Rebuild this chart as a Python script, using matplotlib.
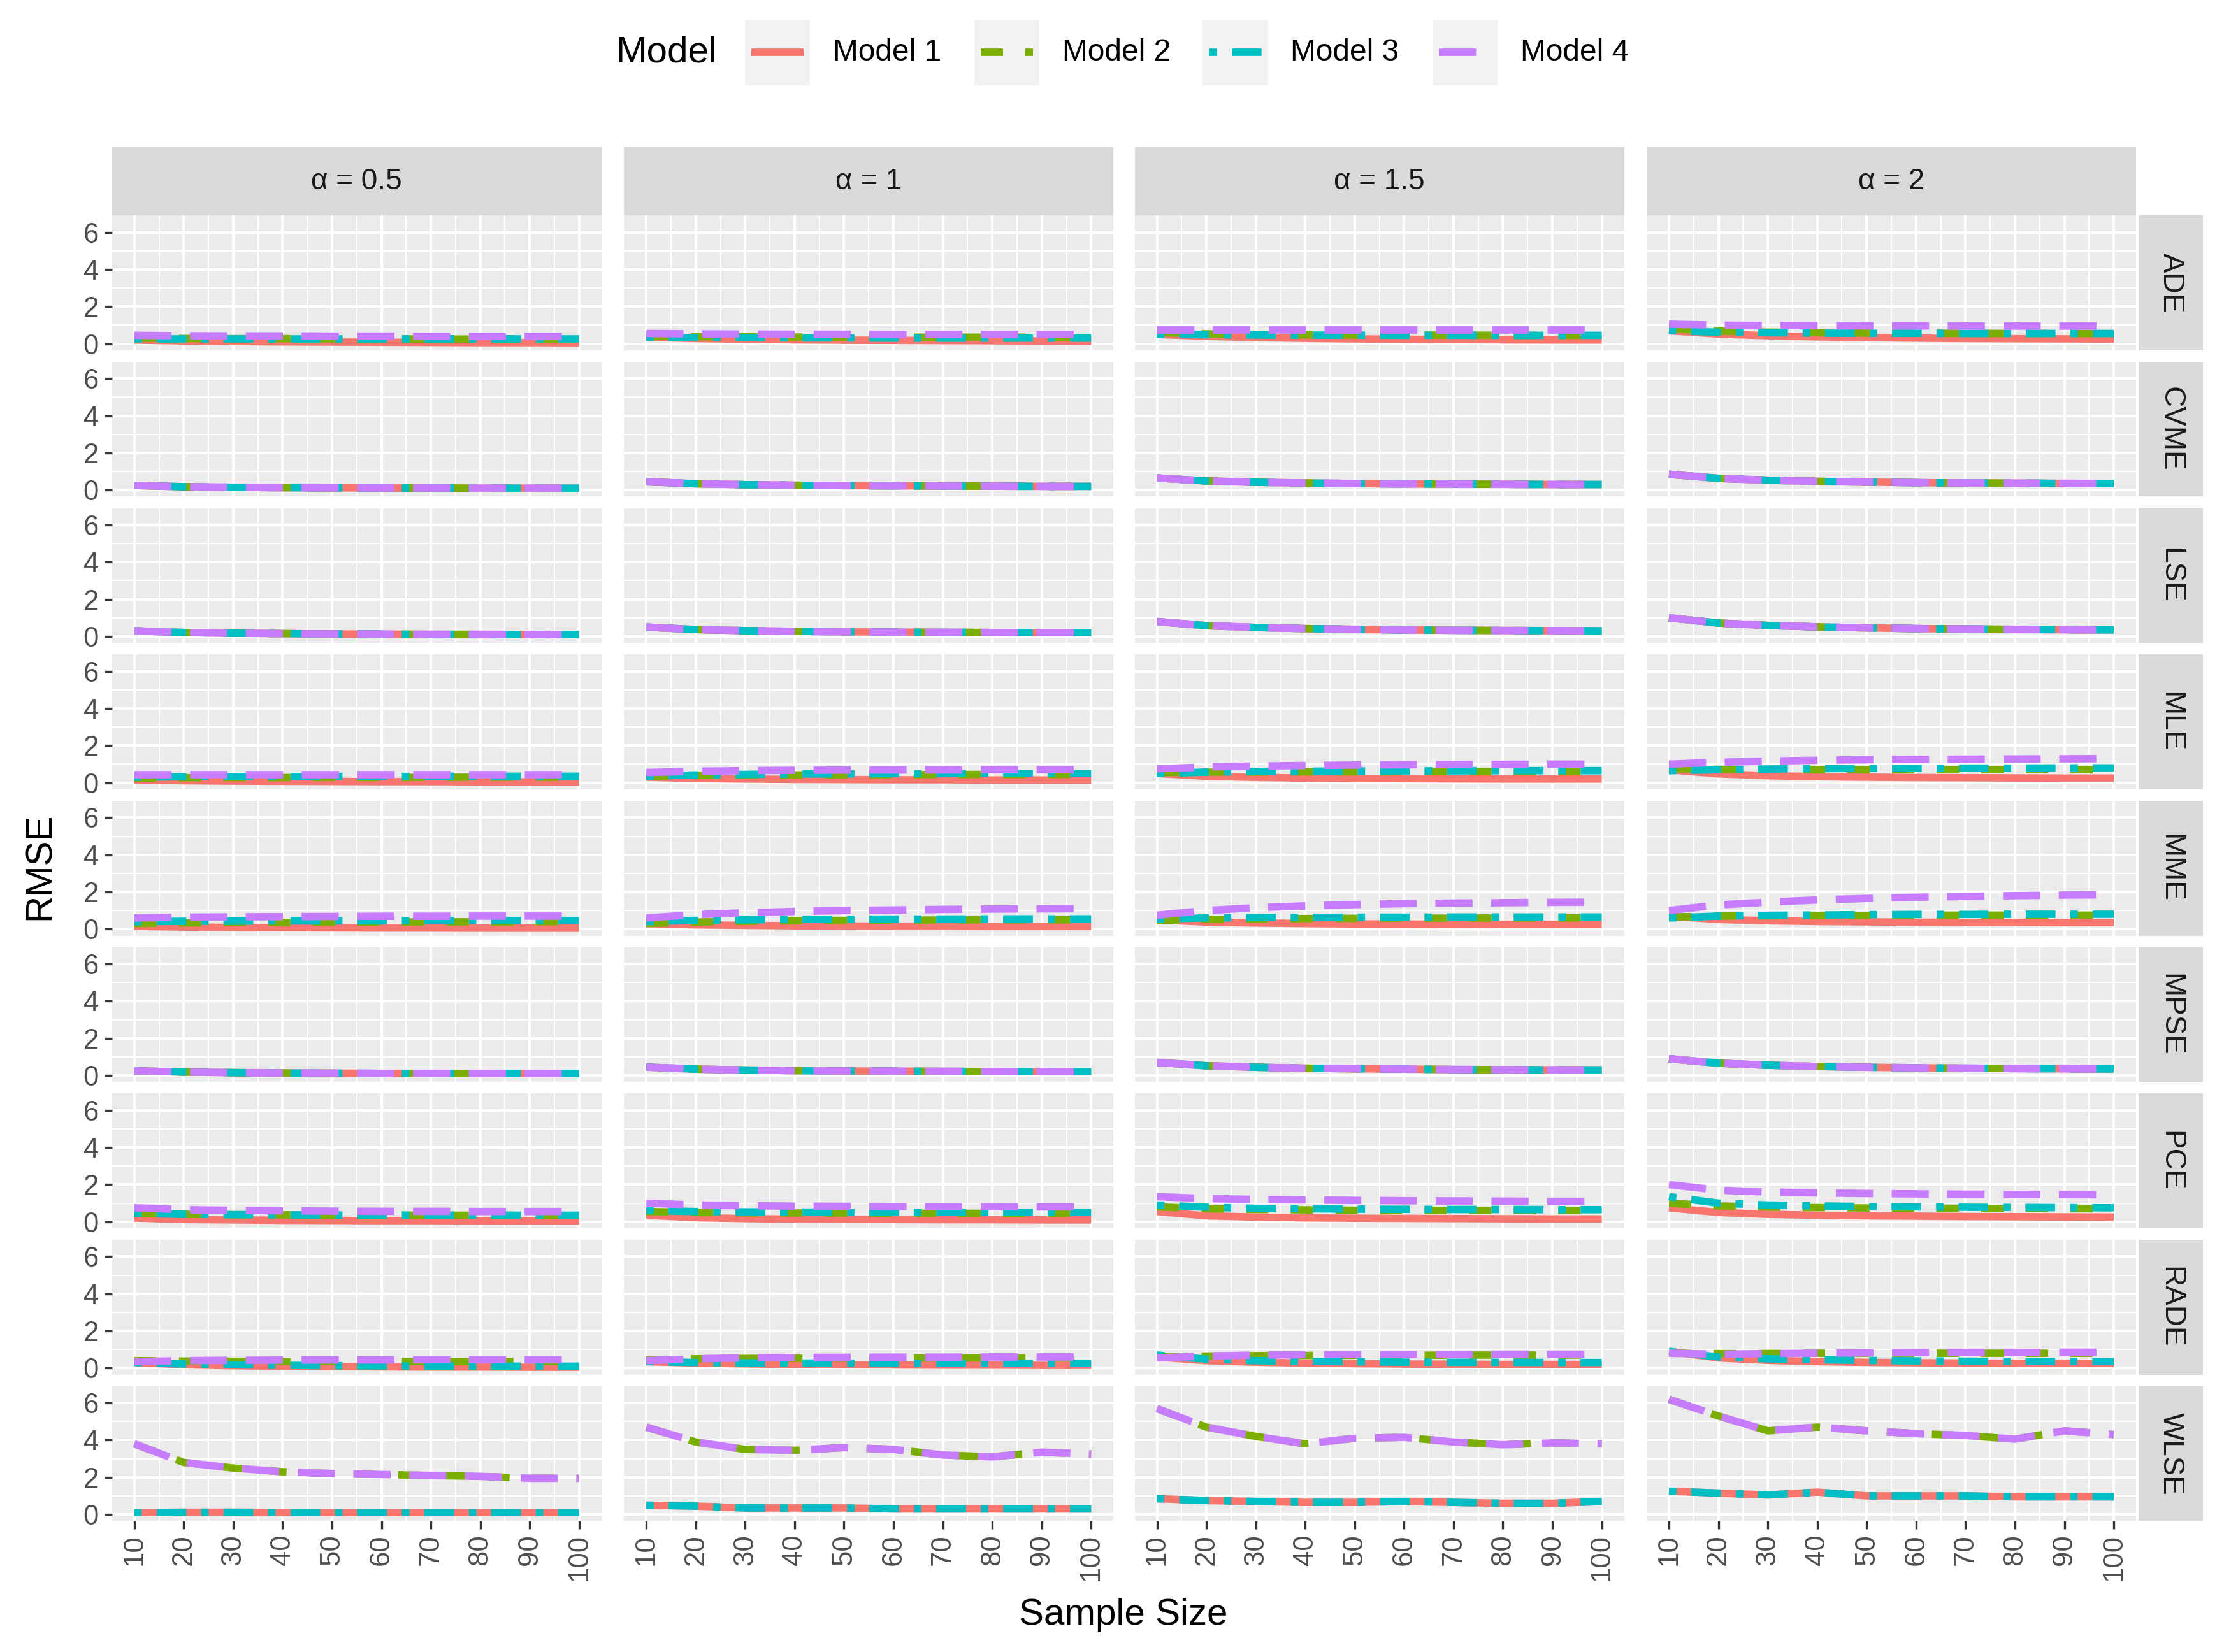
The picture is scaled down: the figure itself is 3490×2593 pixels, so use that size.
import matplotlib
matplotlib.use("Agg")
import matplotlib.pyplot as plt

plt.rcParams['font.family'] = ['Liberation Sans', 'DejaVu Sans']

sample_size = [10, 20, 30, 40, 50, 60, 70, 80, 90, 100]
alphas = ["0.5", "1", "1.5", "2"]
methods = ["ADE", "CVME", "LSE", "MLE", "MME", "MPSE", "PCE", "RADE", "WLSE"]
models = ["Model 1", "Model 2", "Model 3", "Model 4"]
colors = ["#F8766D", "#7CAE00", "#00BFC4", "#C77CFF"]

# values[method][alpha] = [Model 1, Model 2, Model 3, Model 4]
ADE = {
 "0.5": [[.20,.15,.12,.10,.09,.08,.07,.06,.06,.05],[.30,.28,.27,.27,.26,.26,.25,.25,.25,.25],
         [.25,.25,.25,.25,.25,.25,.25,.25,.25,.25],[.45,.43,.42,.42,.41,.41,.40,.40,.40,.40]],
 "1": [[.35,.28,.24,.21,.19,.18,.17,.16,.15,.15],[.40,.38,.37,.36,.36,.35,.35,.35,.35,.35],
       [.35,.33,.32,.31,.31,.30,.30,.30,.30,.30],[.55,.53,.52,.51,.51,.50,.50,.50,.50,.50]],
 "1.5": [[.50,.40,.33,.29,.26,.24,.22,.21,.20,.20],[.60,.53,.50,.48,.47,.46,.46,.45,.45,.45],
         [.50,.48,.47,.46,.46,.45,.45,.45,.45,.45],[.75,.75,.75,.75,.75,.75,.75,.75,.75,.75]],
 "2": [[.70,.52,.43,.37,.33,.30,.28,.27,.26,.25],[.80,.68,.62,.59,.57,.56,.56,.55,.55,.55],
       [.70,.62,.59,.57,.56,.56,.55,.55,.55,.55],[1.05,1.00,.98,.97,.96,.96,.95,.95,.95,.95]],
}
CVME = {
 "0.5": [[.25,.18,.15,.13,.12,.11,.11,.10,.10,.10]]*4,
 "1": [[.45,.34,.29,.26,.24,.23,.22,.21,.20,.20]]*4,
 "1.5": [[.65,.49,.42,.38,.35,.33,.32,.31,.30,.30]]*4,
 "2": [[.85,.63,.53,.47,.43,.40,.38,.37,.36,.35]]*4,
}
LSE = {
 "0.5": [[.30,.21,.17,.15,.13,.12,.11,.11,.10,.10]]*4,
 "1": [[.50,.37,.31,.27,.25,.23,.22,.21,.20,.20]]*4,
 "1.5": [[.80,.58,.48,.42,.38,.35,.33,.32,.31,.30]]*4,
 "2": [[1.00,.72,.59,.51,.46,.42,.40,.38,.36,.35]]*4,
}
MLE = {
 "0.5": [[.15,.11,.09,.08,.07,.06,.06,.05,.05,.05],[.25,.27,.28,.28,.29,.29,.29,.30,.30,.30],
         [.30,.32,.33,.33,.34,.34,.34,.35,.35,.35],[.45,.45,.45,.45,.45,.45,.45,.45,.45,.45]],
 "1": [[.30,.23,.20,.18,.17,.16,.16,.15,.15,.15],[.35,.39,.41,.42,.43,.44,.44,.45,.45,.45],
       [.35,.42,.45,.47,.48,.49,.49,.50,.50,.50],[.55,.62,.65,.67,.68,.69,.69,.70,.70,.70]],
 "1.5": [[.50,.35,.29,.25,.23,.22,.21,.20,.20,.20],[.55,.57,.58,.59,.59,.60,.60,.60,.60,.60],
         [.50,.57,.60,.62,.63,.64,.64,.65,.65,.65],[.75,.85,.90,.93,.95,.97,.98,.99,1.00,1.00]],
 "2": [[.70,.48,.38,.33,.30,.28,.27,.26,.25,.25],[.75,.72,.71,.70,.70,.70,.70,.70,.70,.70],
       [.65,.70,.74,.76,.77,.78,.79,.79,.80,.80],[1.00,1.10,1.17,1.21,1.24,1.26,1.27,1.28,1.29,1.30]],
}
MME = {
 "0.5": [[.15,.11,.09,.08,.07,.06,.06,.05,.05,.05],[.30,.33,.35,.36,.37,.38,.39,.39,.40,.40],
         [.40,.42,.43,.44,.44,.44,.45,.45,.45,.45],[.60,.64,.66,.67,.68,.69,.69,.70,.70,.70]],
 "1": [[.30,.23,.20,.18,.17,.16,.16,.15,.15,.15],[.30,.38,.42,.45,.47,.48,.49,.50,.50,.50],
       [.40,.47,.50,.52,.53,.54,.54,.55,.55,.55],[.60,.78,.88,.95,1.00,1.03,1.06,1.08,1.09,1.10]],
 "1.5": [[.50,.38,.33,.30,.28,.27,.26,.25,.25,.25],[.45,.52,.55,.57,.58,.59,.59,.60,.60,.60],
         [.55,.60,.62,.63,.64,.64,.65,.65,.65,.65],[.75,1.00,1.15,1.25,1.32,1.37,1.40,1.42,1.44,1.45]],
 "2": [[.70,.52,.45,.41,.39,.37,.36,.36,.35,.35],[.65,.70,.72,.73,.74,.74,.75,.75,.75,.75],
       [.60,.70,.74,.76,.78,.79,.79,.80,.80,.80],[1.00,1.30,1.45,1.57,1.65,1.71,1.76,1.80,1.83,1.85]],
}
MPSE = {
 "0.5": [[.25,.18,.15,.13,.12,.11,.11,.10,.10,.10]]*4,
 "1": [[.45,.34,.29,.26,.24,.23,.22,.21,.20,.20]]*4,
 "1.5": [[.70,.52,.44,.39,.36,.34,.32,.31,.30,.30]]*4,
 "2": [[.90,.66,.55,.48,.44,.41,.39,.37,.36,.35]]*4,
}
PCE = {
 "0.5": [[.20,.12,.10,.08,.07,.06,.06,.05,.05,.05],[.45,.40,.38,.37,.36,.36,.35,.35,.35,.35],
         [.45,.40,.38,.37,.36,.36,.35,.35,.35,.35],[.75,.65,.61,.59,.57,.56,.56,.55,.55,.55]],
 "1": [[.35,.22,.17,.14,.13,.12,.11,.11,.10,.10],[.55,.50,.48,.47,.46,.46,.45,.45,.45,.45],
       [.60,.55,.53,.52,.51,.51,.50,.50,.50,.50],[1.00,.90,.86,.84,.83,.82,.81,.81,.80,.80]],
 "1.5": [[.55,.32,.25,.21,.19,.18,.17,.16,.15,.15],[.80,.70,.66,.64,.62,.61,.61,.60,.60,.60],
         [.90,.78,.72,.70,.68,.67,.66,.66,.65,.65],[1.35,1.25,1.20,1.17,1.15,1.13,1.12,1.11,1.10,1.10]],
 "2": [[.75,.50,.40,.35,.32,.30,.28,.27,.26,.25],[1.00,.85,.79,.76,.74,.73,.72,.71,.70,.70],
       [1.35,1.00,.90,.85,.82,.80,.78,.77,.76,.75],[2.00,1.70,1.60,1.55,1.52,1.50,1.48,1.47,1.46,1.45]],
}
RADE = {
 "0.5": [[.30,.18,.13,.10,.08,.07,.06,.06,.05,.05],[.40,.38,.37,.36,.36,.36,.35,.35,.35,.35],
         [.30,.22,.18,.15,.13,.12,.11,.11,.10,.10],[.35,.40,.42,.43,.44,.44,.45,.45,.45,.45]],
 "1": [[.35,.27,.23,.20,.18,.17,.16,.16,.15,.15],[.45,.50,.52,.53,.54,.54,.55,.55,.55,.55],
       [.35,.30,.28,.27,.26,.26,.25,.25,.25,.25],[.40,.50,.55,.57,.58,.59,.59,.60,.60,.60]],
 "1.5": [[.60,.40,.32,.27,.24,.22,.21,.20,.20,.20],[.60,.65,.67,.68,.69,.69,.70,.70,.70,.70],
         [.70,.48,.40,.36,.34,.32,.31,.31,.30,.30],[.55,.65,.70,.72,.73,.74,.74,.75,.75,.75]],
 "2": [[.90,.55,.42,.35,.31,.29,.27,.26,.25,.25],[.80,.78,.79,.80,.80,.80,.80,.80,.80,.80],
       [.90,.60,.50,.45,.41,.39,.37,.36,.35,.35],[.80,.75,.78,.80,.82,.83,.84,.84,.85,.85]],
}
WLSE_low_05 = [.10, .12, .12, .11, .10, .10, .10, .10, .10, .10]
WLSE_high_05 = [3.80, 2.80, 2.50, 2.30, 2.20, 2.15, 2.10, 2.05, 1.95, 1.95]
WLSE_low_1 = [.50, .45, .35, .35, .35, .30, .30, .30, .30, .30]
WLSE_high_1 = [4.70, 3.90, 3.50, 3.45, 3.60, 3.50, 3.20, 3.10, 3.35, 3.25]
WLSE_low_15 = [.85, .75, .70, .65, .65, .70, .65, .60, .60, .70]
WLSE_high_15 = [5.70, 4.70, 4.20, 3.80, 4.10, 4.15, 3.90, 3.75, 3.85, 3.80]
WLSE_low_2 = [1.25, 1.15, 1.05, 1.20, 1.00, 1.00, 1.00, .95, .95, .95]
WLSE_high_2 = [6.20, 5.30, 4.50, 4.70, 4.50, 4.35, 4.25, 4.05, 4.50, 4.30]
WLSE = {
 "0.5": [WLSE_low_05, WLSE_high_05, WLSE_low_05, WLSE_high_05],
 "1": [WLSE_low_1, WLSE_high_1, WLSE_low_1, WLSE_high_1],
 "1.5": [WLSE_low_15, WLSE_high_15, WLSE_low_15, WLSE_high_15],
 "2": [WLSE_low_2, WLSE_high_2, WLSE_low_2, WLSE_high_2],
}
data = {"ADE": ADE, "CVME": CVME, "LSE": LSE, "MLE": MLE, "MME": MME,
        "MPSE": MPSE, "PCE": PCE, "RADE": RADE, "WLSE": WLSE}

dashes = [None, (3, 3), (1, 2, 4, 2), (5, 2.5)]
lw = 2.8

W, H = 1568, 1165
fig = plt.figure(figsize=(3490 / 300, 2593 / 300), dpi=300)

def fx(px): return px / W
def fy(py): return 1 - py / H

col_left = [79, 440, 800, 1161]
col_w = 345
row_top0, row_step, row_h = 152, 103.2, 95
strip_bg = "#D9D9D9"

for j, a in enumerate(alphas):
    sax = fig.add_axes([fx(col_left[j]), fy(152), fx(col_w), (152 - 104) / H])
    sax.set_facecolor(strip_bg); sax.set_xticks([]); sax.set_yticks([])
    for s in sax.spines.values(): s.set_visible(False)
    sax.text(0.5, 0.5, "α = " + a, ha="center", va="center", fontsize=11, color="#1A1A1A")
    for i, m in enumerate(methods):
        top = row_top0 + i * row_step
        ax = fig.add_axes([fx(col_left[j]), fy(top + row_h), fx(col_w), row_h / H])
        ax.set_facecolor("#EBEBEB")
        for s in ax.spines.values(): s.set_visible(False)
        ax.set_xlim(5.5, 104.5); ax.set_ylim(-0.35, 6.9)
        ax.set_yticks([0, 2, 4, 6]); ax.set_yticks([1, 3, 5], minor=True)
        ax.set_xticks(sample_size); ax.set_xticks([15, 25, 35, 45, 55, 65, 75, 85, 95], minor=True)
        ax.grid(True, which="major", color="white", lw=1.0)
        ax.grid(True, which="minor", color="white", lw=0.5)
        ax.set_axisbelow(True)
        ax.tick_params(which="minor", length=0)
        ax.tick_params(which="major", length=3, color="#333333", width=0.8,
                       labelsize=10.5, labelcolor="#4D4D4D", pad=2)
        if j == 0:
            ax.set_yticklabels(["0", "2", "4", "6"])
        else:
            ax.tick_params(axis="y", length=0, labelleft=False)
        if i == len(methods) - 1:
            ax.set_xticklabels([str(v) for v in sample_size], rotation=90)
        else:
            ax.tick_params(axis="x", length=0, labelbottom=False)
        for k in range(4):
            ln, = ax.plot(sample_size, data[m][a][k], color=colors[k], lw=lw,
                          solid_capstyle="butt", dash_capstyle="butt")
            if dashes[k] is not None:
                ln.set_dashes(dashes[k])
        if j == 3:
            rax = fig.add_axes([fx(1508), fy(top + row_h), fx(45), row_h / H])
            rax.set_facecolor(strip_bg); rax.set_xticks([]); rax.set_yticks([])
            for s in rax.spines.values(): s.set_visible(False)
            rax.text(0.5, 0.5, m, rotation=-90, ha="center", va="center",
                     fontsize=11, color="#1A1A1A")

fig.text(fx(28), fy(611), "RMSE", rotation=90, ha="center", va="center", fontsize=14)
fig.text(fx(792), fy(1139), "Sample Size", ha="center", va="center", fontsize=14)

fig.text(fx(470), fy(37), "Model", ha="center", va="center", fontsize=14)
key_x = [525, 687, 848, 1010]
for k in range(4):
    kax = fig.add_axes([fx(key_x[k]), fy(60), fx(46), 46 / H])
    kax.set_facecolor("#F2F2F2"); kax.set_xticks([]); kax.set_yticks([])
    for s in kax.spines.values(): s.set_visible(False)
    kax.set_xlim(0, 1); kax.set_ylim(0, 1)
    ln, = kax.plot([0.1, 0.9], [0.5, 0.5], color=colors[k], lw=lw, solid_capstyle="butt")
    if dashes[k] is not None:
        ln.set_dashes(dashes[k])
    fig.text(fx(key_x[k] + 62), fy(37), models[k], ha="left", va="center", fontsize=11.5)

fig.savefig("out.png", dpi=300, facecolor="white")
